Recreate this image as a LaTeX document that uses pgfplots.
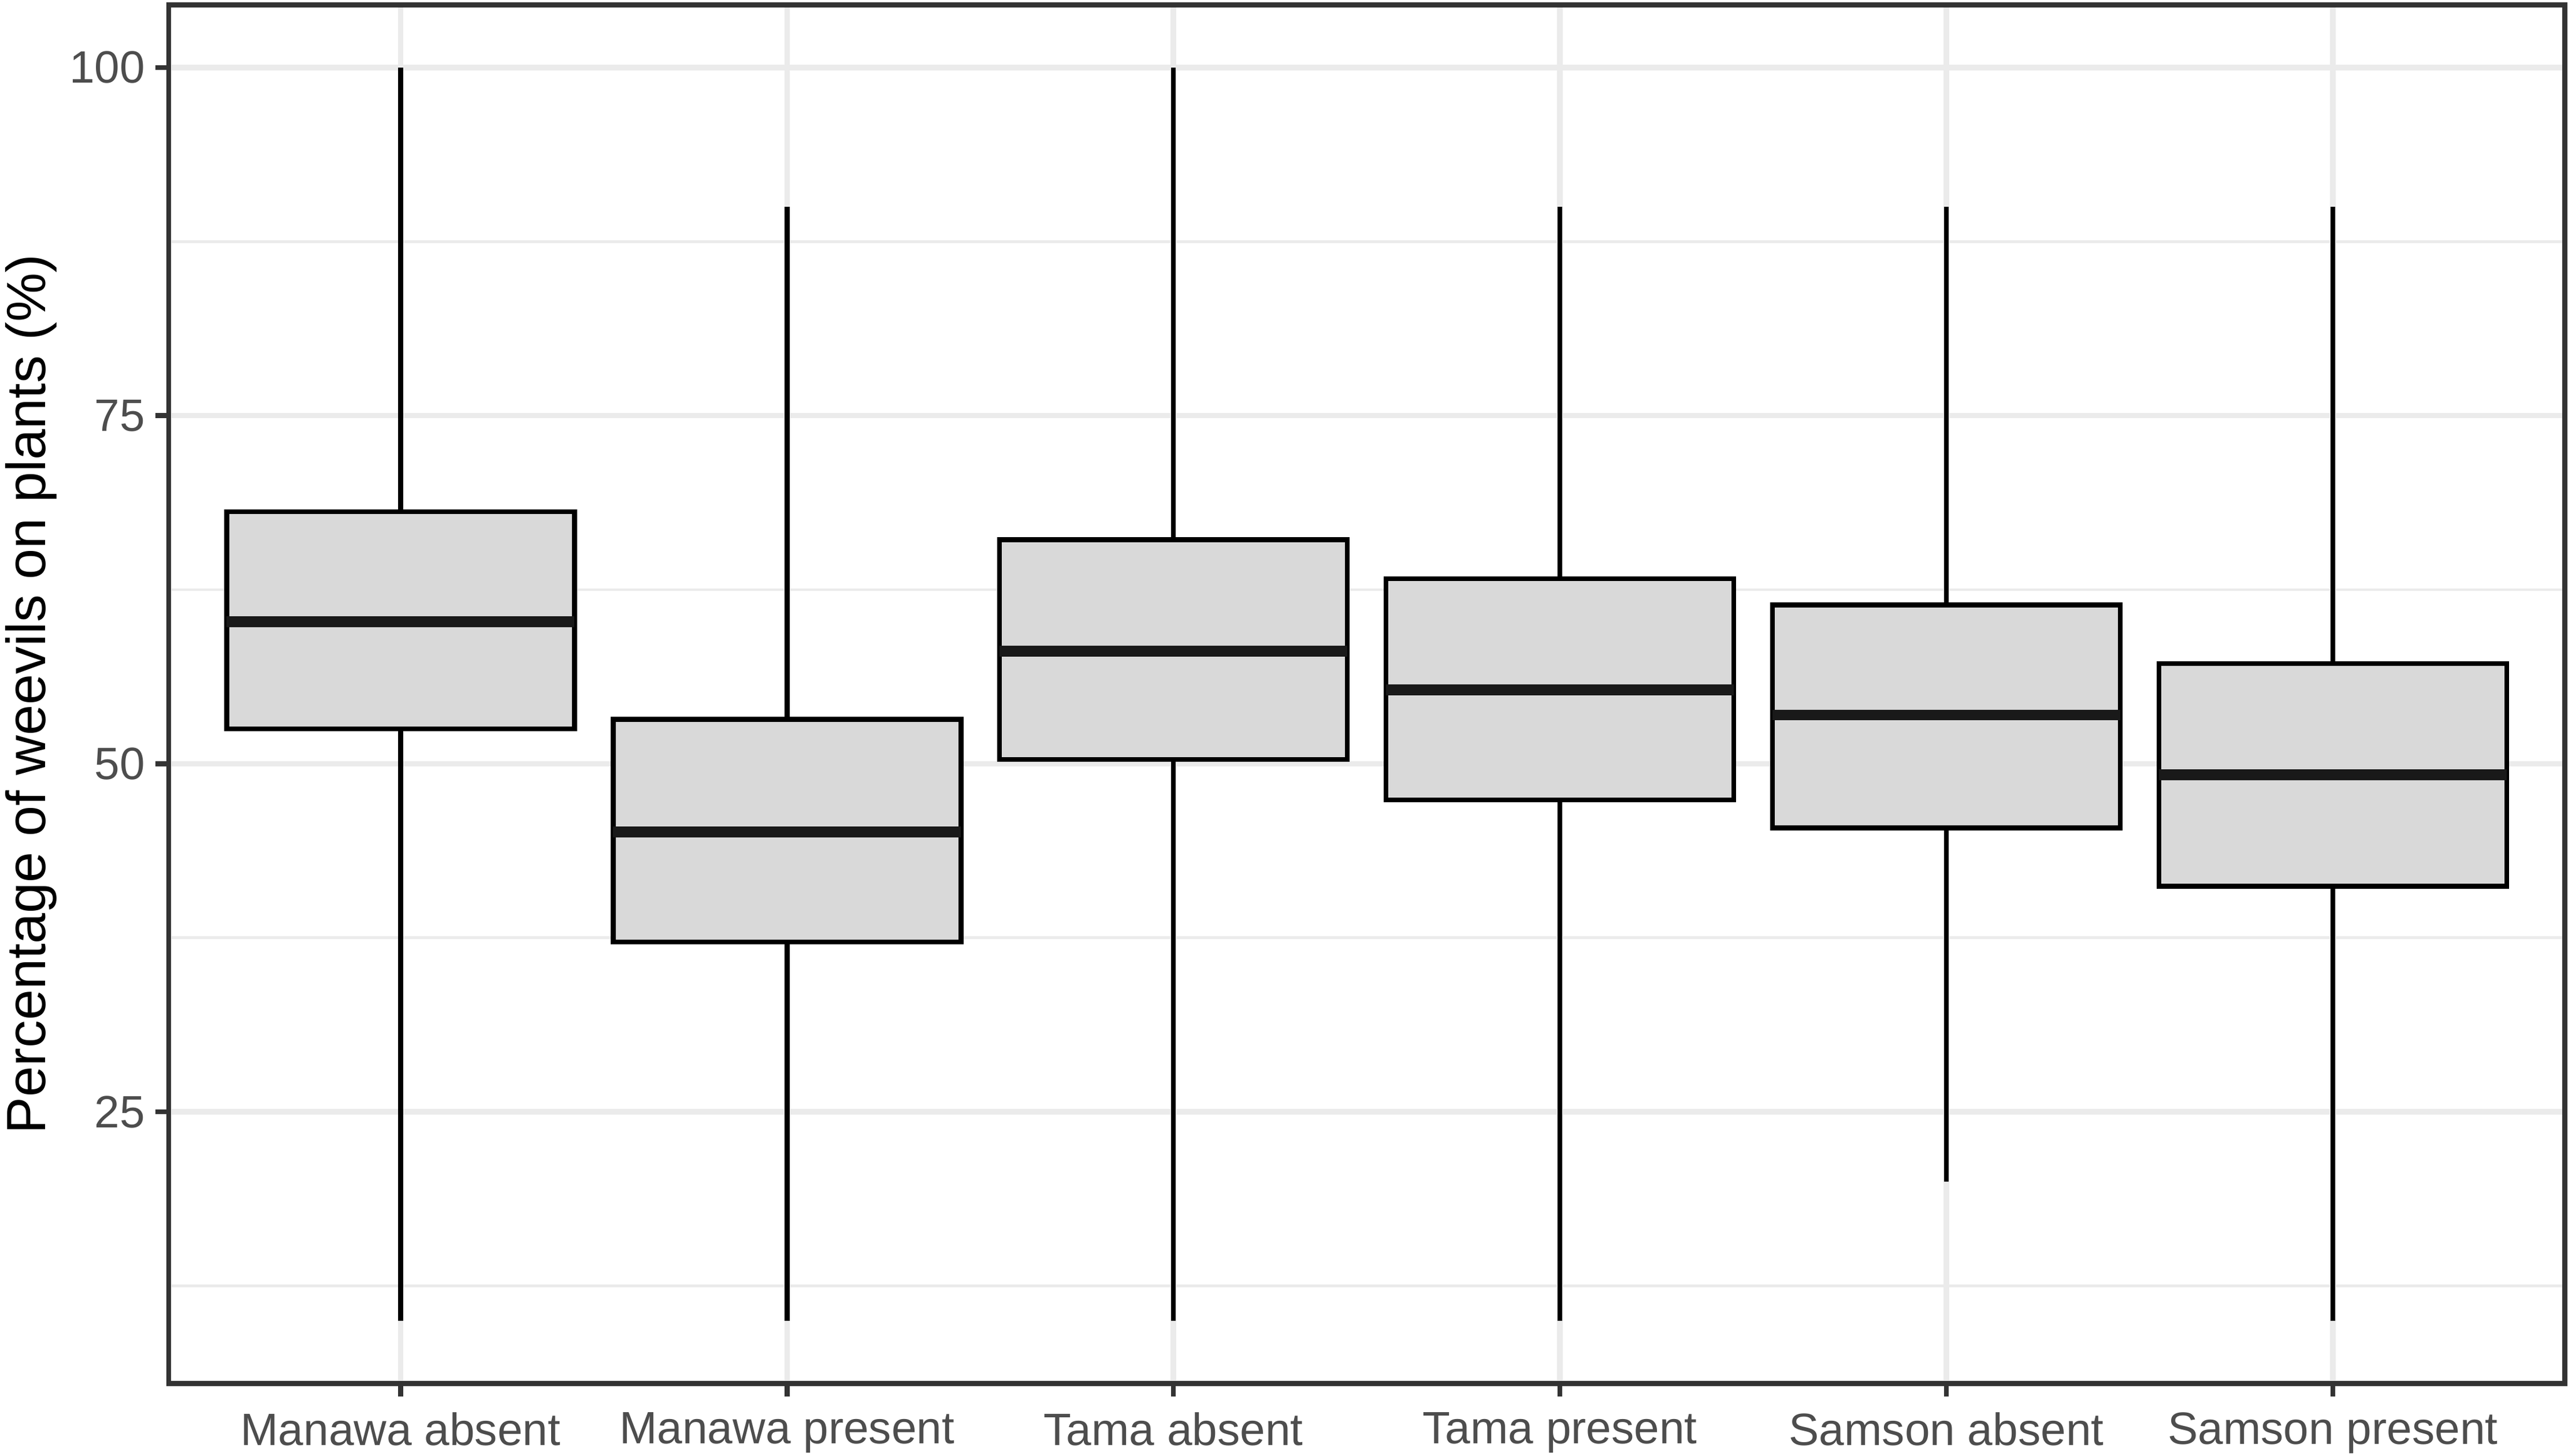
\documentclass[border=0pt]{standalone}
\usepackage{pgfplots}
\pgfplotsset{compat=1.18}
\usepgfplotslibrary{statistics}
\usetikzlibrary{calc}
\usepackage{fontspec}
\setmainfont{Liberation Sans}
\definecolor{gridmaj}{HTML}{EBEBEB}
\definecolor{boxfill}{HTML}{D9D9D9}
\definecolor{tickgray}{HTML}{4D4D4D}
\definecolor{grey20}{HTML}{333333}
\begin{document}
\begin{tikzpicture}
\begin{axis}[
  name=ax,
  scale only axis,
  width=438.9pt, height=252.6pt,
  xmin=0.4, xmax=6.6,
  ymin=5.5, ymax=104.5,
  xtick={1,2,3,4,5,6},
  xticklabels={Manawa absent,Manawa present,Tama absent,Tama present,Samson absent,Samson present},
  ytick={25,50,75,100},
  minor ytick={12.5,37.5,62.5,87.5},
  grid=both,
  major grid style={draw=gridmaj, line width=1.0pt},
  minor grid style={draw=gridmaj, line width=0.5pt},
  axis line style={draw=grey20, line width=0.9pt},
  tick style={draw=grey20, line width=0.9pt},
  major tick length=2.4pt,
  tick align=outside,
  xtick pos=bottom, ytick pos=left,
  minor tick length=0pt,
  tick label style={font=\fontsize{8.3}{9}\selectfont, text=tickgray},
  /pgf/number format/assume math mode=true,
  yticklabel style={xshift=1.6pt},
  xticklabel style={yshift=0.6pt},
  ylabel={Percentage of weevils on plants (\%)},
  ylabel style={font=\fontsize{10.1}{12}\selectfont, text=black, at={(axis description cs:-0.0574,0.5)}, anchor=center, rotate=0},
  boxplot/draw direction=y,
  boxplot/box extend=0.9,
  boxplot/whisker extend=0,
  boxplot/every box/.style={draw=black, fill=boxfill, line width=0.9pt},
  boxplot/every whisker/.style={draw=black, line width=0.9pt},
  boxplot/every median/.style={draw=black!90, line width=2.0pt},
]
\addplot[draw=black, mark=none, boxplot prepared={draw position=1, lower whisker=10, lower quartile=52.5, median=60.2, upper quartile=68.1, upper whisker=100}] coordinates {};
\addplot[draw=black, mark=none, boxplot prepared={draw position=2, lower whisker=10, lower quartile=37.2, median=45.1, upper quartile=53.2, upper whisker=90}] coordinates {};
\addplot[draw=black, mark=none, boxplot prepared={draw position=3, lower whisker=10, lower quartile=50.3, median=58.1, upper quartile=66.1, upper whisker=100}] coordinates {};
\addplot[draw=black, mark=none, boxplot prepared={draw position=4, lower whisker=10, lower quartile=47.4, median=55.3, upper quartile=63.3, upper whisker=90}] coordinates {};
\addplot[draw=black, mark=none, boxplot prepared={draw position=5, lower whisker=20, lower quartile=45.4, median=53.5, upper quartile=61.4, upper whisker=90}] coordinates {};
\addplot[draw=black, mark=none, boxplot prepared={draw position=6, lower whisker=10, lower quartile=41.2, median=49.2, upper quartile=57.2, upper whisker=90}] coordinates {};
\end{axis}
\pgfresetboundingbox
\path ($(ax.south west)+(-30.9pt,-13.2pt)$) rectangle ($(ax.north east)+(0.6pt,0.9pt)$);
\end{tikzpicture}
\end{document}
